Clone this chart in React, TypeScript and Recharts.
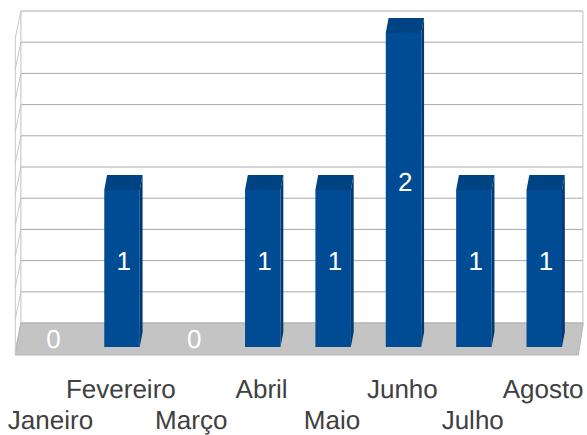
// App.tsx
import React from 'react';
import { ComposedChart, Bar, Line, XAxis, YAxis, CartesianGrid, LabelList, ReferenceArea } from 'recharts';

const MONTHS = ['Janeiro', 'Fevereiro', 'Março', 'Abril', 'Maio', 'Junho', 'Julho', 'Agosto'];
const COUNTS = [0, 1, 0, 1, 1, 2, 1, 1];
const WALL_TICKS = [0, 0.2, 0.4, 0.6, 0.8, 1, 1.2, 1.4, 1.6, 1.8, 2];

const chartData = MONTHS.map((name, i) => ({ name, value: COUNTS[i] }));

const BLUE = '#004c94';
const BLUE_TOP = '#004382';
const BLUE_SIDE = '#003a70';
const GRID = '#a9a9a9';
const FLOOR = '#c4c4c4';
const DEPTH_X = 5.6; // wall is pushed back this far
const BAR_DX = 2.8;
const BAR_DY = 15;

const WallLine = (props: any) => {
    const { x1, x2, y1, y2 } = props;
    return (
        <g>
            <line x1={x1 + DEPTH_X} y1={y1} x2={x2 + 4.6} y2={y2} stroke={GRID} strokeWidth={1} />
            <line x1={x1 + DEPTH_X} y1={y1} x2={x1} y2={y1 + 27} stroke="#c8c8c8" strokeWidth={1} />
        </g>
    );
};

const Floor = (props: any) => {
    const { x, y, width, height } = props;
    const pts = [
        [x, y + height],
        [x + width, y + height],
        [x + width + 5, y],
        [x + DEPTH_X, y],
    ];
    return (
        <g>
            <polygon points={pts.map((p) => p.join(',')).join(' ')} fill={FLOOR} stroke="#b3b3b3" strokeWidth={1} />
            <line x1={x} y1={y + height} x2={x} y2={11 + 27} stroke="#c8c8c8" strokeWidth={1} />
            <line x1={x + DEPTH_X} y1={y} x2={x + DEPTH_X} y2={11} stroke="#c0c0c0" strokeWidth={1} />
            <line x1={x + width + 4.6} y1={y} x2={x + width + 4.6} y2={11} stroke="#c0c0c0" strokeWidth={1} />
        </g>
    );
};

const Bar3D = (props: any) => {
    const { x, y, width, height } = props;
    if (!height) return null;
    const l = x + 1.6;
    const r = l + width;
    const b = y + height;
    return (
        <g>
            <polygon points={`${r},${y} ${r + BAR_DX},${y - BAR_DY} ${r + BAR_DX},${b - BAR_DY} ${r},${b}`} fill={BLUE_SIDE} />
            <polygon points={`${l},${y} ${l + BAR_DX},${y - BAR_DY} ${r + BAR_DX},${y - BAR_DY} ${r},${y}`} fill={BLUE_TOP} />
            <rect x={l} y={y} width={width} height={height} fill={BLUE} />
        </g>
    );
};

const ValueLabel = (props: any) => {
    const { x, y, width, height, value } = props;
    return (
        <text
            x={x + width / 2 + 3.4}
            y={y + (height - BAR_DY) / 2}
            fill="#ffffff"
            fontSize={26}
            fontFamily="Liberation Sans"
            textAnchor="middle"
            dominantBaseline="central"
            textRendering="geometricPrecision"
        >
            {value}
        </text>
    );
};

const MonthTick = (props: any) => {
    const { x, index, payload } = props;
    return (
        <text
            x={x}
            y={index % 2 === 0 ? 428.5 : 398}
            fill="#404040"
            fontSize={26}
            fontFamily="Liberation Sans"
            textAnchor="middle"
            textRendering="geometricPrecision"
        >
            {payload.value}
        </text>
    );
};

export default function App() {
    return (
        <div style={{ position: 'absolute', left: 0, top: 0 }}>
            <ComposedChart
                width={587}
                height={435}
                data={chartData}
                margin={{ top: 11, right: 8.7, bottom: 0, left: 15.3 }}
                barSize={35.5}
            >
                <XAxis dataKey="name" height={80} interval={0} axisLine={false} tickLine={false} tick={<MonthTick />} />
                <YAxis yAxisId="main" hide domain={[-0.051, 2.14]} />
                <YAxis yAxisId="wall" hide domain={[-0.205, 2]} />
                <CartesianGrid
                    yAxisId="wall"
                    vertical={false}
                    horizontalValues={WALL_TICKS}
                    horizontal={<WallLine />}
                />
                <ReferenceArea yAxisId="wall" y1={-0.205} y2={0} shape={<Floor />} ifOverflow="visible" />
                {/* keeps the wall axis alive, draws nothing */}
                <Line yAxisId="wall" dataKey="value" stroke="none" dot={false} activeDot={false} legendType="none" isAnimationActive={false} />
                <Bar yAxisId="main" dataKey="value" shape={<Bar3D />} isAnimationActive={false}>
                    <LabelList dataKey="value" content={<ValueLabel />} />
                </Bar>
            </ComposedChart>
        </div>
    );
}
